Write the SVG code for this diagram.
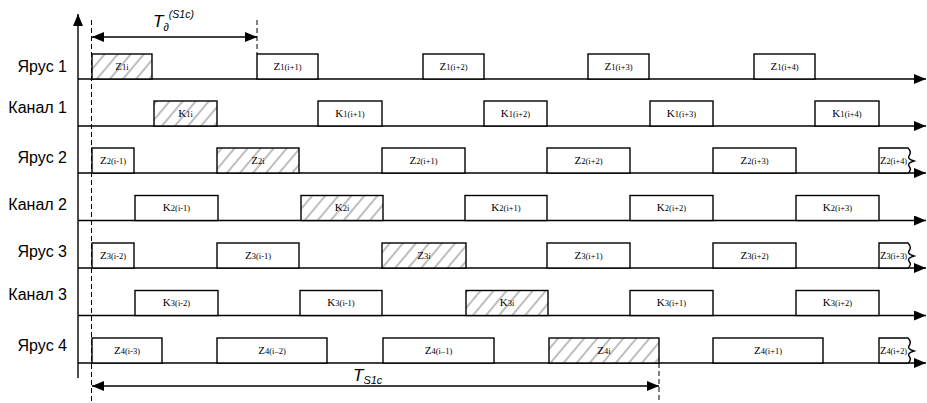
<svg xmlns="http://www.w3.org/2000/svg" width="927" height="403" viewBox="0 0 927 403">
<style>
.ax{stroke:#000;stroke-width:1.4;fill:none}
.dash{stroke:#000;stroke-width:1;stroke-dasharray:5,3;fill:none}
.box{fill:#fff;stroke:#000;stroke-width:1.4}
.hb{fill:url(#hatch);stroke:#000;stroke-width:1.4}
.lbl{font-family:"Liberation Sans",Arial,sans-serif;font-size:16px;fill:#000;text-anchor:end}
.bt{font-family:"Liberation Serif","Times New Roman",serif;font-size:11px;fill:#000;text-anchor:middle}
.bs{font-family:"Liberation Serif","Times New Roman",serif;font-size:11px;fill:#000;text-anchor:start}
.s{font-size:8.5px}
.tl{font-family:"Liberation Sans",Arial,sans-serif;font-style:italic;fill:#000}
</style>
<defs>
<pattern id="hatch" patternUnits="userSpaceOnUse" width="10" height="10" patternTransform="rotate(40)">
<rect width="10" height="10" fill="#fff"/>
<line x1="5" y1="0" x2="5" y2="10" stroke="#a8a8a8" stroke-width="1.5"/>
</pattern>
<marker id="ah" viewBox="0 0 12 10" refX="12" refY="5" markerWidth="12" markerHeight="10" markerUnits="userSpaceOnUse" orient="auto-start-reverse">
<path d="M0,0 L12,5 L0,10 z" fill="#000"/>
</marker>
</defs>

<g id="connectors">
<line class="ax" x1="78" y1="378" x2="78" y2="14" marker-end="url(#ah)"/>
<line class="ax" x1="78" y1="79" x2="926" y2="79" marker-end="url(#ah)"/>
<line class="ax" x1="78" y1="126" x2="926" y2="126" marker-end="url(#ah)"/>
<line class="ax" x1="78" y1="173" x2="926" y2="173" marker-end="url(#ah)"/>
<line class="ax" x1="78" y1="220.5" x2="926" y2="220.5" marker-end="url(#ah)"/>
<line class="ax" x1="78" y1="268" x2="926" y2="268" marker-end="url(#ah)"/>
<line class="ax" x1="78" y1="315.5" x2="926" y2="315.5" marker-end="url(#ah)"/>
<line class="ax" x1="78" y1="363" x2="926" y2="363" marker-end="url(#ah)"/>
<line class="dash" x1="91.5" y1="20" x2="91.5" y2="403"/>
<line class="dash" x1="257" y1="20" x2="257" y2="54"/>
<line class="dash" x1="659" y1="363" x2="659" y2="403"/>
<line class="ax" x1="92" y1="37" x2="257" y2="37" marker-start="url(#ah)" marker-end="url(#ah)"/>
<line class="ax" x1="92" y1="386" x2="659" y2="386" marker-start="url(#ah)" marker-end="url(#ah)"/>
</g>

<g id="dim-labels">
<text class="tl" x="153" y="27" font-size="17">T<tspan font-size="11" dy="4">∂</tspan><tspan font-size="10.5" dy="-13">(S1c)</tspan></text>
<text class="tl" x="353" y="381" font-size="17">T<tspan font-size="11" dy="3">S1c</tspan></text>
</g>

<g id="row-labels">
<text class="lbl" x="67" y="72">Ярус 1</text>
<text class="lbl" x="67" y="113">Канал 1</text>
<text class="lbl" x="67" y="163">Ярус 2</text>
<text class="lbl" x="67" y="210">Канал 2</text>
<text class="lbl" x="67" y="257">Ярус 3</text>
<text class="lbl" x="67" y="300">Канал 3</text>
<text class="lbl" x="67" y="351">Ярус 4</text>
</g>

<g id="row1">
<g id="Z1i"><rect class="hb" x="92" y="54" width="60" height="25"/><text class="bt" x="122" y="69.5">Z<tspan class="s">1i</tspan></text></g>
<g id="Z1i1"><rect class="box" x="257" y="54" width="61" height="25"/><text class="bt" x="287.5" y="69.5">Z<tspan class="s">1(i+1)</tspan></text></g>
<g id="Z1i2"><rect class="box" x="423" y="54" width="61" height="25"/><text class="bt" x="453.5" y="69.5">Z<tspan class="s">1(i+2)</tspan></text></g>
<g id="Z1i3"><rect class="box" x="588" y="54" width="61" height="25"/><text class="bt" x="618.5" y="69.5">Z<tspan class="s">1(i+3)</tspan></text></g>
<g id="Z1i4"><rect class="box" x="754" y="54" width="61" height="25"/><text class="bt" x="784.5" y="69.5">Z<tspan class="s">1(i+4)</tspan></text></g>
</g>

<g id="row2">
<g id="K1i"><rect class="hb" x="154" y="101" width="63" height="25"/><text class="bt" x="185.5" y="116.5">K<tspan class="s">1i</tspan></text></g>
<g id="K1i1"><rect class="box" x="318" y="101" width="64" height="25"/><text class="bt" x="350" y="116.5">K<tspan class="s">1(i+1)</tspan></text></g>
<g id="K1i2"><rect class="box" x="484" y="101" width="63" height="25"/><text class="bt" x="515.5" y="116.5">K<tspan class="s">1(i+2)</tspan></text></g>
<g id="K1i3"><rect class="box" x="650" y="101" width="63" height="25"/><text class="bt" x="681.5" y="116.5">K<tspan class="s">1(i+3)</tspan></text></g>
<g id="K1i4"><rect class="box" x="815" y="101" width="64" height="25"/><text class="bt" x="847" y="116.5">K<tspan class="s">1(i+4)</tspan></text></g>
</g>

<g id="row3">
<g id="Z2im1"><rect class="box" x="92" y="148" width="42" height="25"/><text class="bt" x="113" y="163.5">Z<tspan class="s">2(i-1)</tspan></text></g>
<g id="Z2i"><rect class="hb" x="217" y="148" width="82" height="25"/><text class="bt" x="258" y="163.5">Z<tspan class="s">2i</tspan></text></g>
<g id="Z2i1"><rect class="box" x="382" y="148" width="83" height="25"/><text class="bt" x="423.5" y="163.5">Z<tspan class="s">2(i+1)</tspan></text></g>
<g id="Z2i2"><rect class="box" x="547" y="148" width="83" height="25"/><text class="bt" x="588.5" y="163.5">Z<tspan class="s">2(i+2)</tspan></text></g>
<g id="Z2i3"><rect class="box" x="713" y="148" width="83" height="25"/><text class="bt" x="754.5" y="163.5">Z<tspan class="s">2(i+3)</tspan></text></g>
<g id="Z2i4"><path class="box" d="M879,173 V148 H908 Q912,152 909,156 Q907,159 914,161 Q907,163 909,166 Q912,170 908,173 Z"/><text class="bs" x="880" y="163.5" textLength="27" lengthAdjust="spacingAndGlyphs">Z<tspan class="s">2(i+4)</tspan></text></g>
</g>

<g id="row4">
<g id="K2im1"><rect class="box" x="135" y="195.5" width="83" height="25"/><text class="bt" x="176.5" y="211">K<tspan class="s">2(i-1)</tspan></text></g>
<g id="K2i"><rect class="hb" x="301" y="195.5" width="82" height="25"/><text class="bt" x="342" y="211">K<tspan class="s">2i</tspan></text></g>
<g id="K2i1"><rect class="box" x="465" y="195.5" width="82" height="25"/><text class="bt" x="506" y="211">K<tspan class="s">2(i+1)</tspan></text></g>
<g id="K2i2"><rect class="box" x="630" y="195.5" width="83" height="25"/><text class="bt" x="671.5" y="211">K<tspan class="s">2(i+2)</tspan></text></g>
<g id="K2i3"><rect class="box" x="796" y="195.5" width="83" height="25"/><text class="bt" x="837.5" y="211">K<tspan class="s">2(i+3)</tspan></text></g>
</g>

<g id="row5">
<g id="Z3im2"><rect class="box" x="92" y="243" width="42" height="25"/><text class="bt" x="113" y="258.5">Z<tspan class="s">3(i-2)</tspan></text></g>
<g id="Z3im1"><rect class="box" x="217" y="243" width="82" height="25"/><text class="bt" x="258" y="258.5">Z<tspan class="s">3(i-1)</tspan></text></g>
<g id="Z3i"><rect class="hb" x="382" y="243" width="84" height="25"/><text class="bt" x="424" y="258.5">Z<tspan class="s">3i</tspan></text></g>
<g id="Z3i1"><rect class="box" x="547" y="243" width="83" height="25"/><text class="bt" x="588.5" y="258.5">Z<tspan class="s">3(i+1)</tspan></text></g>
<g id="Z3i2"><rect class="box" x="713" y="243" width="83" height="25"/><text class="bt" x="754.5" y="258.5">Z<tspan class="s">3(i+2)</tspan></text></g>
<g id="Z3i3"><path class="box" d="M879,268 V243 H908 Q912,247 909,251 Q907,254 914,256 Q907,258 909,261 Q912,265 908,268 Z"/><text class="bs" x="880" y="258.5" textLength="27" lengthAdjust="spacingAndGlyphs">Z<tspan class="s">3(i+3)</tspan></text></g>
</g>

<g id="row6">
<g id="K3im2"><rect class="box" x="135" y="290.5" width="83" height="25"/><text class="bt" x="176.5" y="306">K<tspan class="s">3(i-2)</tspan></text></g>
<g id="K3im1"><rect class="box" x="300" y="290.5" width="82" height="25"/><text class="bt" x="341" y="306">K<tspan class="s">3(i-1)</tspan></text></g>
<g id="K3i"><rect class="hb" x="466" y="290.5" width="82" height="25"/><text class="bt" x="507" y="306">K<tspan class="s">3i</tspan></text></g>
<g id="K3i1"><rect class="box" x="630" y="290.5" width="83" height="25"/><text class="bt" x="671.5" y="306">K<tspan class="s">3(i+1)</tspan></text></g>
<g id="K3i2"><rect class="box" x="796" y="290.5" width="83" height="25"/><text class="bt" x="837.5" y="306">K<tspan class="s">3(i+2)</tspan></text></g>
</g>

<g id="row7">
<g id="Z4im3"><rect class="box" x="92" y="338" width="70" height="25"/><text class="bt" x="127" y="353.5">Z<tspan class="s">4(i-3)</tspan></text></g>
<g id="Z4im2"><rect class="box" x="217" y="338" width="110" height="25"/><text class="bt" x="272" y="353.5">Z<tspan class="s">4(i–2)</tspan></text></g>
<g id="Z4im1"><rect class="box" x="383" y="338" width="111" height="25"/><text class="bt" x="438.5" y="353.5">Z<tspan class="s">4(i–1)</tspan></text></g>
<g id="Z4i"><rect class="hb" x="549" y="338" width="110" height="25"/><text class="bt" x="604" y="353.5">Z<tspan class="s">4i</tspan></text></g>
<g id="Z4i1"><rect class="box" x="713" y="338" width="110" height="25"/><text class="bt" x="768" y="353.5">Z<tspan class="s">4(i+1)</tspan></text></g>
<g id="Z4i2"><path class="box" d="M879,363 V338 H908 Q912,342 909,346 Q907,349 914,351 Q907,353 909,356 Q912,360 908,363 Z"/><text class="bs" x="880" y="353.5" textLength="27" lengthAdjust="spacingAndGlyphs">Z<tspan class="s">4(i+2)</tspan></text></g>
</g>
</svg>
